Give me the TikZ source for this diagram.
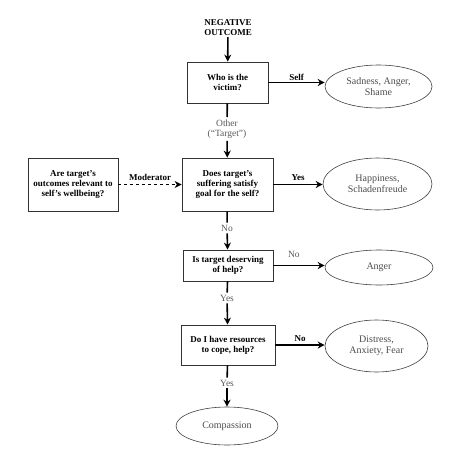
\documentclass[tikz,border=0pt]{standalone}
\usepackage{fontspec}
\setmainfont{Liberation Serif}
\usetikzlibrary{shapes.geometric,arrows.meta}

\tikzset{
  question/.style={draw=black!80, line width=0.8pt, align=center, font=\bfseries\fontsize{9}{10}\selectfont, inner sep=2pt},
  emotion/.style={ellipse, draw=black!75, line width=0.6pt, align=center, text=black!70, font=\fontsize{10}{11}\selectfont, inner sep=0pt},
  flow/.style={-{Stealth[length=7pt,width=7pt]}, line width=1.6pt},
  stem/.style={line width=1.6pt},
  tag/.style={font=\fontsize{9.5}{10.5}\selectfont, text=black!65, align=center, inner sep=2pt},
  boldtag/.style={font=\bfseries\fontsize{9}{10}\selectfont, align=center, inner sep=1pt}
}

\begin{document}
\begin{tikzpicture}[x=1pt, y=-1pt]
    \useasboundingbox (0,0) rectangle (455,463);
    % Start of the chain
    \node[boldtag] (start) at (228,28) {NEGATIVE\\OUTCOME};
    % Questions
    \node[question, minimum width=81pt, minimum height=41pt] (victim) at (227.5,82.5) {Who is the\\victim?};
    \node[question, minimum width=91pt, minimum height=53pt] (goal) at (227.5,184.5) {Does target’s\\suffering satisfy\\goal for the self?};
    \node[question, minimum width=90pt, minimum height=53pt] (relevant) at (73,184.5) {Are target’s\\outcomes relevant to\\self’s wellbeing?};
    \node[question, minimum width=90pt, minimum height=31pt] (deserve) at (228,265.5) {Is target deserving\\of help?};
    \node[question, minimum width=94pt, minimum height=40pt] (cope) at (228,345) {Do I have resources\\to cope, help?};
    % Emotions
    \node[emotion, minimum width=107pt, minimum height=43pt] (shame) at (378.5,86.5) {Sadness, Anger,\\Shame};
    \node[emotion, minimum width=109pt, minimum height=52pt] (happy) at (377.5,184) {Happiness,\\Schadenfreude};
    \node[emotion, minimum width=108pt, minimum height=35pt] (anger) at (379,267.5) {Anger};
    \node[emotion, minimum width=103pt, minimum height=52pt] (distress) at (376.5,346) {Distress,\\Anxiety, Fear};
    \node[emotion, minimum width=102pt, minimum height=38pt] (compassion) at (227,426) {Compassion};
    % Labels on the way down
    \node[tag] (other) at (227,129) {Other\\(``Target'')};
    \node[tag] (no1) at (227,228) {No};
    \node[tag] (yes1) at (227,298) {Yes};
    \node[tag] (yes2) at (227,383) {Yes};
    % Connectors
    \draw[flow] (start) -- (victim);
    \draw[flow] (victim.east) -- (victim.east -| shame.west) node[midway, above, boldtag] {Self};
    \draw[stem] (victim) -- (other);
    \draw[flow] (other) -- (goal);
    \draw[flow, dashed, line width=1pt] (relevant) -- (goal) node[midway, above=2pt, boldtag] {Moderator};
    \draw[flow] (goal) -- (happy.west |- goal) node[midway, above=2pt, boldtag] {Yes};
    \draw[stem] (goal) -- (no1);
    \draw[flow] (no1) -- (deserve);
    \draw[flow] (deserve.east) -- (deserve.east -| anger.west) node[pos=0.4, above=5pt, tag] {No};
    \draw[stem] (deserve) -- (yes1);
    \draw[flow] (yes1) -- (cope);
    \draw[flow] (cope) -- (cope -| distress.west) node[midway, above=2pt, boldtag] {No};
    \draw[stem] (cope) -- (yes2);
    \draw[flow] (yes2) -- (compassion);
\end{tikzpicture}
\end{document}
